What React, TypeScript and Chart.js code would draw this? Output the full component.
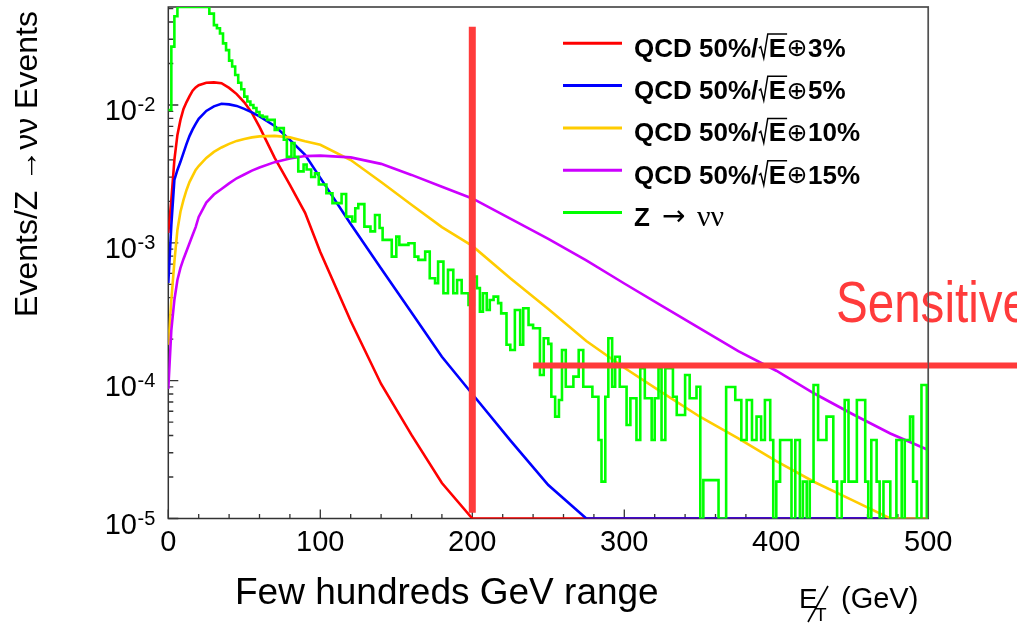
import React, { useEffect, useRef } from "react";
import { Chart, registerables } from "chart.js";

Chart.register(...registerables);

// ---------------- data ----------------
const X_MIN = 0;
const X_MAX = 500;
const Y_MIN = 1e-5;
const Y_MAX = 0.0514;

const xTickValues = [0, 100, 200, 300, 400, 500];
const xTickLabels = ["0", "100", "200", "300", "400", "500"];
const yDecades = [-5, -4, -3, -2];

const seriesLabels = [
  "QCD 50%/\u221aE\u22953%",
  "QCD 50%/\u221aE\u22955%",
  "QCD 50%/\u221aE\u229510%",
  "QCD 50%/\u221aE\u229515%",
  "Z \u2192 \u03bd\u03bd",
];
const seriesColors = ["#ff0000", "#0000ff", "#ffcc00", "#cc00ff", "#00ff00"];

// sampling points (GeV) for the smooth QCD curves
const qcdX = [0, 2, 4, 6, 8, 10, 12, 14, 16, 18, 20, 25, 30, 35, 40, 45, 50, 55, 60, 70, 80, 90, 100, 120, 140, 160, 180, 200, 225, 250, 275, 300, 325, 350, 375, 400, 425, 450, 475, 500];

const qcd3 = [1.18e-3, 2.05e-3, 4.0e-3, 6.07e-3, 7.8e-3, 9.37e-3, 1.05e-2, 1.16e-2, 1.27e-2, 1.34e-2, 1.39e-2, 1.45e-2, 1.46e-2, 1.44e-2, 1.33e-2, 1.2e-2, 1.045e-2, 8.77e-3, 6.93e-3, 4.13e-3, 2.63e-3, 1.65e-3, 8.59e-4, 2.71e-4, 9.46e-5, 4.04e-5, 1.81e-5, 0, 0, 0, 0, 0, 0, 0, 0, 0, 0, 0, 0, 0];

const qcd5 = [5.12e-4, 1.35e-3, 2.86e-3, 3.38e-3, 3.87e-3, 4.49e-3, 5.22e-3, 5.97e-3, 6.65e-3, 7.29e-3, 7.93e-3, 9.06e-3, 9.77e-3, 1.02e-2, 1.01e-2, 9.85e-3, 9.37e-3, 8.84e-3, 8.27e-3, 7.05e-3, 5.58e-3, 4.35e-3, 2.96e-3, 1.37e-3, 6.51e-4, 3.12e-4, 1.49e-4, 8.0e-5, 3.69e-5, 1.75e-5, 0, 0, 0, 0, 0, 0, 0, 0, 0, 0];

const qcd10 = [1.82e-4, 3.85e-4, 7.27e-4, 1.24e-3, 1.68e-3, 2.05e-3, 2.42e-3, 2.77e-3, 3.06e-3, 3.38e-3, 3.61e-3, 4.13e-3, 4.57e-3, 4.92e-3, 5.22e-3, 5.49e-3, 5.67e-3, 5.82e-3, 5.92e-3, 5.97e-3, 5.82e-3, 5.45e-3, 5.15e-3, 3.99e-3, 2.76e-3, 1.89e-3, 1.3e-3, 9.5e-4, 5.53e-4, 3.31e-4, 1.94e-4, 1.24e-4, 8.18e-5, 5.45e-5, 3.82e-5, 2.61e-5, 1.84e-5, 1.36e-5, 0, 0];

const qcd15 = [8.71e-5, 2.33e-4, 3.85e-4, 5.38e-4, 6.58e-4, 7.64e-4, 8.73e-4, 9.98e-4, 1.14e-3, 1.3e-3, 1.54e-3, 1.96e-3, 2.24e-3, 2.46e-3, 2.7e-3, 2.94e-3, 3.13e-3, 3.34e-3, 3.52e-3, 3.85e-3, 4.09e-3, 4.26e-3, 4.29e-3, 4.17e-3, 3.74e-3, 3.11e-3, 2.55e-3, 2.1e-3, 1.5e-3, 1.07e-3, 7.45e-4, 5.07e-4, 3.48e-4, 2.39e-4, 1.64e-4, 1.18e-4, 8.07e-5, 5.73e-5, 4.14e-5, 3.14e-5];

// Z -> nu nu histogram: low edge of each step (GeV) and its content
// (the 6-27 GeV plateau is cut by the frame top in the picture)
const zEdges = [0, 2, 4, 6, 27, 30, 32, 34, 36, 38, 40, 42, 44, 46, 48, 50, 52, 54, 56, 58, 60, 62, 65, 70, 72, 76, 78, 81, 83, 85.5, 89, 91, 94, 96.5, 99, 104, 108, 114, 117, 121, 123, 125, 129, 133, 136, 139, 141, 147, 150, 152, 158, 162, 164.5, 169, 172, 175.5, 177.5, 181, 184, 187.5, 190, 193, 197.5, 201, 203, 205, 207, 209.5, 211.5, 214, 217, 219, 222.5, 225, 228, 231.5, 233.5, 237, 240, 244.5, 247, 250, 252, 254.5, 257, 259, 261.5, 266.5, 270, 273, 279, 283, 285, 287.5, 289.5, 292, 294, 297, 301.5, 304, 308, 310.5, 313.5, 318, 320, 322.5, 324.5, 327, 332, 334.5, 340, 343, 347.5, 350, 352, 362, 367, 373, 377, 380.5, 384, 387, 390, 392.5, 396, 398, 400, 402.5, 410, 412.5, 415.5, 417.5, 420, 422, 424.5, 427.5, 433, 437.5, 440, 443, 445, 447.5, 453, 458.5, 460.5, 462.5, 466, 468, 470.5, 475, 479, 482.5, 484.5, 488, 490, 492.5, 495.5, 499, 500];
const zValues = [9.2e-3, 2.65e-2, 4.4e-2, 5.14e-2, 4.6e-2, 3.8e-2, 3.6e-2, 3.3e-2, 2.8e-2, 2.5e-2, 2.1e-2, 1.9e-2, 1.65e-2, 1.45e-2, 1.3e-2, 1.15e-2, 1.06e-2, 1.0e-2, 9.5e-3, 8.9e-3, 8.4e-3, 8.2e-3, 7.8e-3, 6.6e-3, 6.8e-3, 5.6e-3, 4.2e-3, 5.3e-3, 4.2e-3, 3.3e-3, 3.7e-3, 3.4e-3, 3.0e-3, 3.2e-3, 2.65e-3, 2.29e-3, 1.94e-3, 2.26e-3, 1.55e-3, 1.43e-3, 1.78e-3, 1.91e-3, 1.31e-3, 1.21e-3, 1.59e-3, 1.28e-3, 1.05e-3, 7.94e-4, 1.11e-3, 9.66e-4, 9.93e-4, 7.94e-4, 7.52e-4, 8.63e-4, 5.53e-4, 5.09e-4, 7.31e-4, 4.31e-4, 6.36e-4, 4.31e-4, 5.38e-4, 4.31e-4, 3.54e-4, 5.69e-4, 4.69e-4, 3.17e-4, 4.31e-4, 3.26e-4, 3.85e-4, 4.07e-4, 3.65e-4, 3.08e-4, 1.82e-4, 1.67e-4, 3.26e-4, 1.82e-4, 3.35e-4, 2.54e-4, 2.4e-4, 1.1e-4, 2.03e-4, 1.85e-4, 7.65e-5, 5.48e-5, 7.24e-5, 1.67e-4, 9.04e-5, 1.07e-4, 1.67e-4, 9.04e-5, 7.65e-5, 3.71e-5, 1.85e-5, 7.65e-5, 2.03e-4, 9.04e-5, 1.49e-4, 9.04e-5, 4.77e-5, 7.45e-5, 3.71e-5, 1.23e-4, 7.45e-5, 3.71e-5, 7.45e-5, 1.23e-4, 3.71e-5, 1.23e-4, 7.65e-5, 5.64e-5, 1.1e-4, 7.45e-5, 9.04e-5, 0, 1.9e-5, 0, 9.0e-5, 7.24e-5, 3.71e-5, 7.24e-5, 3.71e-5, 5.48e-5, 3.71e-5, 7.24e-5, 3.71e-5, 0, 1.85e-5, 3.71e-5, 0, 3.71e-5, 0, 1.85e-5, 0, 1.85e-5, 9.3e-5, 3.71e-5, 5.48e-5, 1.85e-5, 0, 1.85e-5, 7.24e-5, 1.85e-5, 7.24e-5, 1.85e-5, 0, 3.71e-5, 1.85e-5, 0, 1.85e-5, 0, 3.71e-5, 0, 3.71e-5, 5.48e-5, 1.85e-5, 0, 9.3e-5, 0, 0];

// annotations (data coordinates)
const cutX = 200;
const cutYRange = [1.1e-5, 0.037];
const sensitiveY = 1.29e-4;
const sensitiveXRange = [240, 560];
const sensitiveText = "Sensitive";
const rangeText = "Few hundreds GeV range";
const yTitle = "Events/Z \u2192\u03bd\u03bd Events";

// ---------------- drawing ----------------
const FONT = '"Liberation Sans", Arial, Helvetica, sans-serif';
const SYM = '"DejaVu Sans", "Liberation Sans", sans-serif';
const SERIF = '"Liberation Serif", "DejaVu Serif", serif';
const ANN_RED = "#ff3b3b";
const FRAME = "#333";

const toPoints = (xs: number[], ys: number[]) =>
  xs.map((x, i) => ({ x, y: ys[i] > 0 ? ys[i] : Y_MIN }));

function drawLegendLabel(ctx: CanvasRenderingContext2D, label: string, x0: number, base: number) {
  const B = `bold 26px ${FONT}`;
  ctx.fillStyle = "#000";
  ctx.textAlign = "left";
  ctx.textBaseline = "alphabetic";
  if (label.includes("\u221a")) {
    const [pre, post] = label.split("\u221a");
    const letter = post[0];
    const op = post[1];
    const tail = post.slice(2);
    let x = x0;
    ctx.font = B;
    ctx.fillText(pre, x, base);
    x += ctx.measureText(pre).width;
    const cap = 18.8;
    const eW = ctx.measureText(letter).width;
    ctx.strokeStyle = "#000";
    ctx.lineWidth = 1.5;
    ctx.beginPath();
    ctx.moveTo(x + 0.5, base - 8.5);
    ctx.lineTo(x + 2.5, base - 10);
    ctx.lineTo(x + 5.5, base + 1.5);
    ctx.lineTo(x + 9.5, base - cap - 4);
    ctx.lineTo(x + 10.5 + eW + 1, base - cap - 4);
    ctx.stroke();
    x += 10.5;
    ctx.fillText(letter, x, base);
    x += eW;
    ctx.font = `25px ${SYM}`;
    ctx.fillText(op, x + 0.5, base - 0.5);
    x += ctx.measureText(op).width + 1;
    ctx.font = B;
    ctx.fillText(tail, x, base);
  } else {
    const parts = label.split(" ");
    ctx.font = B;
    ctx.fillText(parts[0], x0, base);
    ctx.font = `28px ${SYM}`;
    ctx.fillText(parts[1], x0 + 28, base - 1);
    ctx.font = `30px ${SERIF}`;
    ctx.fillText(parts[2], x0 + 63, base);
  }
}

const overlay = {
  id: "rootStyleOverlay",
  beforeDatasetsDraw(chart: any) {
    const ctx: CanvasRenderingContext2D = chart.ctx;
    const a = chart.chartArea;
    const xs = chart.scales.x;
    const ys = chart.scales.y;
    ctx.save();
    ctx.strokeStyle = FRAME;
    ctx.lineWidth = 1.5;
    ctx.strokeRect(a.left, a.top, a.right - a.left, a.bottom - a.top);
    ctx.lineWidth = 1.3;
    ctx.beginPath();
    for (let v = X_MIN; v <= X_MAX; v += 20) {
      const px = xs.getPixelForValue(v);
      const len = v % 100 === 0 ? 9 : 4.5;
      ctx.moveTo(px, a.bottom);
      ctx.lineTo(px, a.bottom - len);
    }
    for (const d of yDecades) {
      for (let m = 1; m <= 9; m++) {
        const v = m * Math.pow(10, d);
        if (v > Y_MAX * 1.0001) continue;
        const py = ys.getPixelForValue(v);
        const len = m === 1 ? 10 : 5;
        ctx.moveTo(a.left, py);
        ctx.lineTo(a.left + len, py);
      }
    }
    ctx.stroke();
    ctx.restore();
  },
  afterDatasetsDraw(chart: any) {
    const ctx: CanvasRenderingContext2D = chart.ctx;
    const a = chart.chartArea;
    const xs = chart.scales.x;
    const ys = chart.scales.y;
    ctx.save();

    // red annotations
    ctx.strokeStyle = ANN_RED;
    ctx.lineCap = "butt";
    ctx.lineWidth = 7;
    ctx.beginPath();
    const cx = xs.getPixelForValue(cutX);
    ctx.moveTo(cx, ys.getPixelForValue(cutYRange[1]));
    ctx.lineTo(cx, ys.getPixelForValue(cutYRange[0]));
    ctx.stroke();
    ctx.lineWidth = 6;
    ctx.beginPath();
    const sy = ys.getPixelForValue(sensitiveY);
    ctx.moveTo(xs.getPixelForValue(sensitiveXRange[0]), sy);
    ctx.lineTo(xs.getPixelForValue(sensitiveXRange[1]), sy);
    ctx.stroke();
    ctx.save();
    ctx.translate(836, 322);
    ctx.scale(0.82, 1);
    ctx.font = `58px ${FONT}`;
    ctx.fillStyle = ANN_RED;
    ctx.textAlign = "left";
    ctx.textBaseline = "alphabetic";
    ctx.fillText(sensitiveText, 0, 0);
    ctx.restore();

    // right frame edge shows through the annotation layer
    ctx.strokeStyle = "#555";
    ctx.lineWidth = 1.2;
    ctx.beginPath();
    ctx.moveTo(a.right, a.top);
    ctx.lineTo(a.right, a.bottom);
    ctx.stroke();

    // x tick labels
    ctx.fillStyle = "#000";
    ctx.font = `29px ${FONT}`;
    ctx.textAlign = "center";
    ctx.textBaseline = "alphabetic";
    xTickValues.forEach((v, i) => {
      ctx.fillText(xTickLabels[i], xs.getPixelForValue(v), 550.5);
    });

    // y tick labels 10^d
    yDecades.forEach((d) => {
      const py = ys.getPixelForValue(Math.pow(10, d));
      ctx.font = `29px ${FONT}`;
      ctx.textAlign = "right";
      ctx.fillText("10", 137, py + 15.5);
      ctx.font = `20px ${FONT}`;
      ctx.textAlign = "left";
      ctx.fillText(String(d), 137.5, py + 6);
    });

    // y axis title
    ctx.save();
    ctx.translate(37, 164);
    ctx.rotate(-Math.PI / 2);
    ctx.font = `32px ${FONT}`;
    ctx.textAlign = "center";
    ctx.fillText(yTitle, 0, 0);
    ctx.restore();

    // x-axis texts
    ctx.textAlign = "left";
    ctx.font = `37px ${FONT}`;
    ctx.fillText(rangeText, 235, 604);
    ctx.font = `28px ${FONT}`;
    ctx.fillText("E", 799, 608);
    ctx.font = `19px ${FONT}`;
    ctx.fillText("T", 815, 621);
    ctx.strokeStyle = "#000";
    ctx.lineWidth = 1.6;
    ctx.beginPath();
    ctx.moveTo(828, 586);
    ctx.lineTo(808, 622);
    ctx.stroke();
    ctx.font = `29px ${FONT}`;
    ctx.fillText("(GeV)", 841, 608);

    // legend
    const ds = chart.data.datasets;
    ds.forEach((d: any, i: number) => {
      const ly = 43.3 + i * 42.3;
      ctx.strokeStyle = d.borderColor;
      ctx.lineWidth = 3;
      ctx.beginPath();
      ctx.moveTo(563, ly);
      ctx.lineTo(622, ly);
      ctx.stroke();
      drawLegendLabel(ctx, d.label, 634, ly + 13.4);
    });

    ctx.restore();
  },
};

export default function App() {
  const ref = useRef<HTMLCanvasElement | null>(null);

  useEffect(() => {
    if (!ref.current) return;
    const chart = new Chart(ref.current, {
      type: "line",
      data: {
        datasets: [
          { label: seriesLabels[0], data: toPoints(qcdX, qcd3), borderColor: seriesColors[0], order: 5 },
          { label: seriesLabels[1], data: toPoints(qcdX, qcd5), borderColor: seriesColors[1], order: 4 },
          { label: seriesLabels[2], data: toPoints(qcdX, qcd10), borderColor: seriesColors[2], order: 3 },
          { label: seriesLabels[3], data: toPoints(qcdX, qcd15), borderColor: seriesColors[3], order: 2 },
          { label: seriesLabels[4], data: toPoints(zEdges, zValues), borderColor: seriesColors[4], order: 1, stepped: "before" },
        ],
      },
      options: {
        animation: false,
        responsive: false,
        maintainAspectRatio: false,
        devicePixelRatio: 1,
        layout: { padding: { left: 168.3, right: 88.7, top: 7, bottom: 104.5 } },
        elements: {
          point: { radius: 0, hoverRadius: 0 },
          line: { borderWidth: 2.6, tension: 0, fill: false },
        },
        plugins: { legend: { display: false }, tooltip: { enabled: false } },
        events: [],
        scales: {
          x: { type: "linear", min: X_MIN, max: X_MAX, display: false },
          y: { type: "logarithmic", min: Y_MIN, max: Y_MAX, display: false },
        },
      } as any,
      plugins: [overlay as any],
    });
    return () => chart.destroy();
  }, []);

  return (
    <div style={{ position: "absolute", left: 0, top: 0, width: 1017, height: 623, background: "#fff" }}>
      <canvas ref={ref} width={1017} height={623} style={{ display: "block", width: 1017, height: 623 }} />
    </div>
  );
}
